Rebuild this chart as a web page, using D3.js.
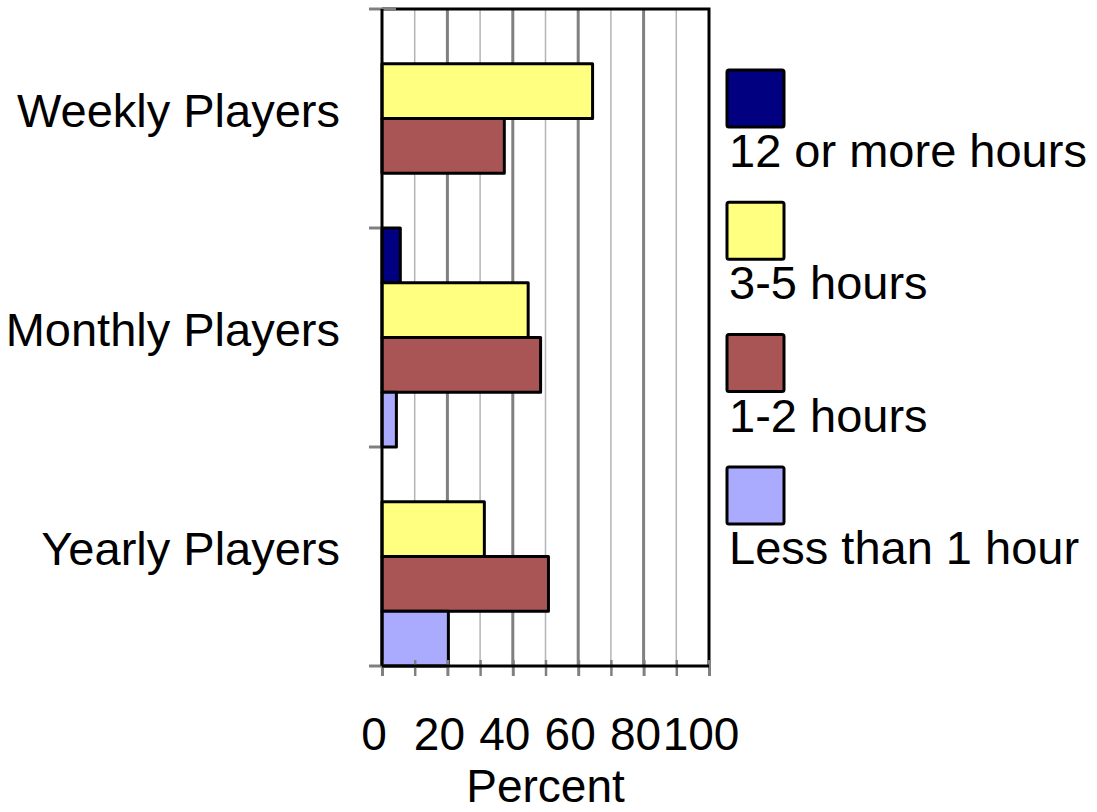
<!DOCTYPE html>
<html>
<head>
<meta charset="utf-8">
<script src="https://cdn.jsdelivr.net/npm/d3@7"></script>
<style>
    html, body { margin: 0; padding: 0; background: #fff; }
    #chart { width: 1097px; height: 812px; }
    text { font-family: "Liberation Sans", Arial, sans-serif; fill: #000; }
</style>
</head>
<body>
<div id="chart"></div>
<script>
const categories = ['Weekly Players', 'Monthly Players', 'Yearly Players'];
const seriesNames = ['12 or more hours', '3-5 hours', '1-2 hours', 'Less than 1 hour'];
const seriesColors = ['#000080', '#ffff80', '#aa5555', '#aaaaff'];
// percent per category, null where no bar is drawn
const hours12plus = [null, 5.6, null];
const hours3to5 = [64.4, 44.7, 31.3];
const hours1to2 = [37.4, 48.5, 50.9];
const hoursLess1 = [null, 4.4, 20.3];
const xTicks = [0, 20, 40, 60, 80, 100];
const xGrid = [10, 20, 30, 40, 50, 60, 70, 80, 90];
const xTitle = 'Percent';

class GroupedBarChart {
    constructor({wrapper, padding: {top = 9, right = 388, bottom = 146, left = 382} = {}}) {
        this.wrapper = wrapper;
        this.padding = {top, right, bottom, left};
        this.series = [hours12plus, hours3to5, hours1to2, hoursLess1];
        this.initChart();
    }

    initChart() {
        let width = this.wrapper.offsetWidth,
            height = this.wrapper.offsetHeight;
        this.width = width - this.padding.left - this.padding.right;
        this.height = height - this.padding.top - this.padding.bottom;

        this.svg = d3.select(this.wrapper)
            .append('svg')
            .attr('width', width)
            .attr('height', height);

        this.g = this.svg.append('g')
            .attr('transform', `translate(${this.padding.left}, ${this.padding.top})`);

        this.xScale = d3.scaleLinear().domain([0, 100]).range([0, this.width]);
        this.yScale = d3.scaleBand().domain(categories).range([0, this.height]).padding(0);
        this.inner = d3.scaleBand().domain(d3.range(seriesNames.length))
            .range([0, this.yScale.bandwidth()]).padding(0);

        this.drawGrid();
        this.drawBars();
        this.drawAxes();
        this.drawLegend();
    }

    drawGrid() {
        this.g.append('g')
            .selectAll('line')
            .data(xGrid)
            .join('line')
            .attr('x1', d => this.xScale(d))
            .attr('x2', d => this.xScale(d))
            .attr('y1', 0)
            .attr('y2', this.height)
            .attr('stroke', d => d % 20 === 0 ? '#808080' : '#b4b4b4')
            .attr('stroke-width', d => d % 20 === 0 ? 3 : 1.5);
    }

    drawBars() {
        let rows = [];
        this.series.forEach((values, si) => {
            values.forEach((v, ci) => {
                if (v != null) rows.push({si, cat: categories[ci], v});
            });
        });
        this.g.append('g')
            .selectAll('rect')
            .data(rows)
            .join('rect')
            .attr('x', this.xScale(0))
            .attr('y', d => this.yScale(d.cat) + this.inner(d.si))
            .attr('width', d => this.xScale(d.v) - this.xScale(0))
            .attr('height', this.inner.bandwidth())
            .attr('fill', d => seriesColors[d.si])
            .attr('stroke', '#000')
            .attr('stroke-width', 3)
            .attr('stroke-linejoin', 'round');
    }

    drawAxes() {
        // frame top and right
        this.g.append('path')
            .attr('d', `M${this.xScale(0)},0H${this.xScale(100)}V${this.height}`)
            .attr('fill', 'none')
            .attr('stroke', '#000')
            .attr('stroke-width', 3);

        // bottom axis ticks every 10
        let xAxis = d3.axisBottom(this.xScale)
            .tickValues(d3.range(0, 101, 10))
            .tickSizeInner(10)
            .tickSizeOuter(0)
            .tickFormat('');
        let xa = this.g.append('g')
            .attr('transform', `translate(0, ${this.height})`)
            .call(xAxis);
        xa.select('.domain').remove();
        xa.selectAll('.tick line')
            .attr('y1', -6)
            .attr('stroke', '#808080')
            .attr('stroke-width', d => d % 20 === 0 ? 3 : 2.5);

        // tick labels
        this.g.append('g')
            .selectAll('text')
            .data(xTicks)
            .join('text')
            .attr('x', d => this.xScale(d))
            .attr('dx', -8)
            .attr('y', this.height + 84)
            .attr('text-anchor', 'middle')
            .style('font-size', '46px')
            .text(d => d);

        this.g.append('text')
            .attr('x', this.width / 2)
            .attr('y', this.height + 136)
            .attr('text-anchor', 'middle')
            .style('font-size', '46px')
            .text(xTitle);

        // left axis with band boundary ticks
        let bounds = categories.map(c => this.yScale(c)).concat([this.height]);
        this.g.append('g')
            .selectAll('line')
            .data(bounds)
            .join('line')
            .attr('x1', -13)
            .attr('x2', (d, i) => i === 0 ? 14 : 0)
            .attr('y1', d => d)
            .attr('y2', d => d)
            .attr('stroke', '#808080')
            .attr('stroke-width', 3);

        this.g.append('line')
            .attr('x1', 0).attr('x2', 0)
            .attr('y1', 0).attr('y2', this.height)
            .attr('stroke', '#000')
            .attr('stroke-width', 3);
        this.g.append('line')
            .attr('x1', 0).attr('x2', this.width)
            .attr('y1', this.height).attr('y2', this.height)
            .attr('stroke', '#000')
            .attr('stroke-width', 3);

        this.g.append('g')
            .selectAll('text')
            .data(categories)
            .join('text')
            .attr('x', -42)
            .attr('y', d => this.yScale(d) + this.yScale.bandwidth() / 2 + 8)
            .attr('text-anchor', 'end')
            .style('font-size', '47px')
            .text(d => d);
    }

    drawLegend() {
        let legend = this.svg.append('g')
            .attr('transform', 'translate(727, 70)');
        let item = legend.selectAll('g')
            .data(seriesNames)
            .join('g')
            .attr('transform', (d, i) => `translate(0, ${i * 132.3})`);
        item.append('rect')
            .attr('width', 57)
            .attr('height', 57)
            .attr('rx', 2)
            .attr('fill', (d, i) => seriesColors[i])
            .attr('stroke', '#000')
            .attr('stroke-width', 3);
        item.append('text')
            .attr('x', 2)
            .attr('y', 97)
            .style('font-size', '47px')
            .text(d => d);
    }
}

new GroupedBarChart({wrapper: document.getElementById('chart')});
</script>
</body>
</html>
